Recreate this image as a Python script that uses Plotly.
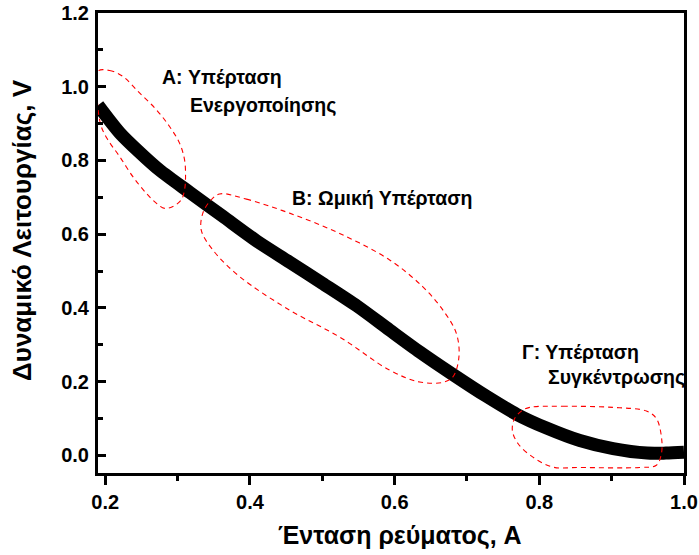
import plotly.graph_objects as go

# ---- data ----
current = [0.190, 0.220, 0.247, 0.275, 0.317, 0.362, 0.409, 0.455, 0.500, 0.548, 0.593, 0.635,
           0.680, 0.727, 0.769, 0.810, 0.856, 0.902, 0.949, 0.975, 1.000]
voltage = [0.950, 0.875, 0.823, 0.774, 0.713, 0.649, 0.582, 0.524, 0.467, 0.405, 0.340, 0.280,
           0.220, 0.160, 0.111, 0.074, 0.040, 0.018, 0.006, 0.006, 0.008]

x_ticks = [0.2, 0.4, 0.6, 0.8, 1.0]
x_tick_labels = ["0.2", "0.4", "0.6", "0.8", "1.0"]
y_ticks = [0.0, 0.2, 0.4, 0.6, 0.8, 1.0, 1.2]
y_tick_labels = ["0.0", "0.2", "0.4", "0.6", "0.8", "1.0", "1.2"]

# region outlines (dashed red), in data units
region_a_x = [0.1898, 0.2059, 0.2243, 0.2474, 0.2705, 0.2889, 0.3027, 0.3096, 0.3110, 0.3096,
              0.3051, 0.2935, 0.2820, 0.2705, 0.2567, 0.2382, 0.2198, 0.2036, 0.1945, 0.1898, 0.1898]
region_a_y = [1.042, 1.044, 1.028, 0.983, 0.938, 0.892, 0.847, 0.802, 0.756, 0.720,
              0.693, 0.675, 0.670, 0.684, 0.711, 0.756, 0.811, 0.856, 0.892, 0.946, 1.042]
region_b_x = [0.3580, 0.3950, 0.4548, 0.5240, 0.5931, 0.6391, 0.6668, 0.6853, 0.6889, 0.6806,
              0.6668, 0.6346, 0.5931, 0.5240, 0.4548, 0.3857, 0.3488, 0.3327, 0.3349, 0.3442, 0.3580]
region_b_y = [0.709, 0.695, 0.657, 0.602, 0.530, 0.457, 0.394, 0.331, 0.267, 0.213,
              0.198, 0.199, 0.231, 0.321, 0.394, 0.485, 0.557, 0.611, 0.657, 0.688, 0.709]
region_c_x = [0.7867, 0.8327, 0.9018, 0.9480, 0.9618, 0.9688, 0.9688, 0.9618, 0.9388, 0.8558,
              0.8189, 0.7912, 0.7705, 0.7627, 0.7659, 0.7752, 0.7867]
region_c_y = [0.130, 0.133, 0.130, 0.120, 0.100, 0.050, 0.005, -0.027, -0.033, -0.033,
              -0.032, -0.005, 0.032, 0.068, 0.100, 0.120, 0.130]

FONT = "Liberation Sans, Arial, sans-serif"

fig = go.Figure()

fig.add_trace(go.Scatter(x=current, y=voltage, mode="lines",
                         line=dict(color="black", width=13, shape="spline", smoothing=0.8),
                         showlegend=False, hoverinfo="skip"))

for rx, ry in [(region_a_x, region_a_y), (region_b_x, region_b_y), (region_c_x, region_c_y)]:
    fig.add_trace(go.Scatter(x=rx, y=ry, mode="lines",
                             line=dict(color="#ff0000", width=1.1, dash="5px,4px",
                                       shape="spline", smoothing=1.0),
                             showlegend=False, hoverinfo="skip"))

ann_font = dict(family=FONT, size=19.5, color="black", weight="bold")
annotations = [
    dict(x=0.2751, y=1.027, text="A: Υπέρταση", xanchor="left", yanchor="middle"),
    dict(x=0.3142, y=0.951, text="Ενεργοποίησης", xanchor="left", yanchor="middle"),
    dict(x=0.4548, y=0.698, text="B: Ωμική Υπέρταση", xanchor="left", yanchor="middle"),
    dict(x=0.7728, y=0.280, text="Γ: Υπέρταση", xanchor="left", yanchor="middle"),
    dict(x=0.8097, y=0.212, text="Συγκέντρωσης", xanchor="left", yanchor="middle"),
]
for a in annotations:
    fig.add_annotation(xref="x", yref="y", showarrow=False, font=ann_font, **a)

fig.add_annotation(xref="paper", yref="paper", x=0.515, y=-0.136, text="Ένταση ρεύματος, A",
                   showarrow=False, font=dict(family=FONT, size=25, color="black", weight="bold"),
                   xanchor="center", yanchor="middle")
fig.add_annotation(xref="paper", yref="paper", x=-0.130, y=0.528, text="Δυναμικό Λειτουργίας, V",
                   showarrow=False, font=dict(family=FONT, size=26, color="black", weight="bold"),
                   textangle=-90, xanchor="center", yanchor="middle")

tick_font = dict(family=FONT, size=20, color="black", weight="bold")

fig.update_layout(
    width=699, height=555,
    margin=dict(l=98, r=15, t=13, b=82, pad=0, autoexpand=False),
    paper_bgcolor="white", plot_bgcolor="white",
    xaxis=dict(range=[0.19, 1.0], tickmode="array", tickvals=x_ticks, ticktext=x_tick_labels,
               ticks="outside", ticklen=9, tickwidth=3, tickcolor="black",
               showline=True, linewidth=3, linecolor="black", mirror=True,
               showgrid=False, zeroline=False, tickfont=tick_font, automargin=False,
               minor=dict(ticks="outside", ticklen=5, tickwidth=3, tickcolor="black",
                          dtick=0.1, tick0=0.1, showgrid=False)),
    yaxis=dict(range=[-0.048, 1.2], tickmode="array", tickvals=y_ticks, ticktext=y_tick_labels,
               ticks="inside", ticklen=8, tickwidth=3, tickcolor="black",
               showline=True, linewidth=3, linecolor="black", mirror=True,
               showgrid=False, zeroline=False, tickfont=tick_font, automargin=False,
               ticklabelstandoff=2,
               minor=dict(ticks="inside", ticklen=5, tickwidth=3, tickcolor="black",
                          dtick=0.1, tick0=0.1, showgrid=False)),
)

fig.write_html("out.html", config={"displayModeBar": False},
               post_script="document.body.style.margin='0';document.body.style.overflow='hidden';")
